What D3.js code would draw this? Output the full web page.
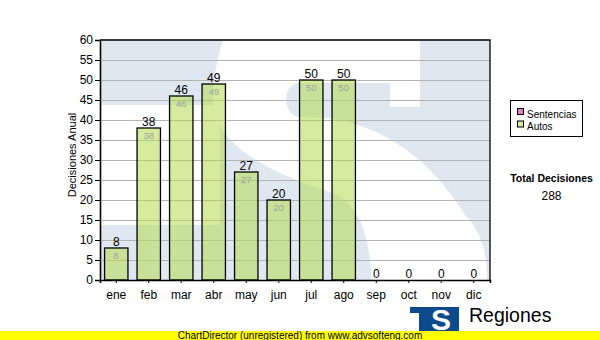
<!DOCTYPE html>
<html>
<head>
<meta charset="utf-8">
<script src="https://cdn.jsdelivr.net/npm/d3@7"></script>
<style>
  body { margin: 0; background: #fff; }
  svg { display: block; font-family: "Liberation Sans", Arial, sans-serif; }
</style>
</head>
<body>
<svg id="chart" width="600" height="340"></svg>
<script>
const months = ["ene", "feb", "mar", "abr", "may", "jun", "jul", "ago", "sep", "oct", "nov", "dic"];
const autos = [8, 38, 46, 49, 27, 20, 50, 50, 0, 0, 0, 0];
const yTicks = [0, 5, 10, 15, 20, 25, 30, 35, 40, 45, 50, 55, 60];
const legendItems = ["Sentencias", "Autos"];
const legendColors = ["#e07fc0", "#d6ec98"];
const totalLabel = "Total Decisiones";
const total = 288;

const svg = d3.select("#chart");
const pLeft = 100, pRight = 490, pTop = 40, pBottom = 280;

const x = d3.scaleBand().domain(months).range([pLeft, pRight]).paddingInner(0.28).paddingOuter(0.14);
const y = d3.scaleLinear().domain([0, 60]).range([pBottom, pTop]);
const rows = autos.map((v, i) => ({m: months[i], v}));

// plot background: pale logo watermark (blue field, white "S")
const defs = svg.append("defs");
defs.append("clipPath").attr("id", "plotClip")
	.append("rect").attr("x", pLeft).attr("y", pTop).attr("width", pRight - pLeft).attr("height", pBottom - pTop);

const bg = svg.append("g").attr("clip-path", "url(#plotClip)");
bg.append("rect").attr("x", pLeft).attr("y", pTop).attr("width", pRight - pLeft).attr("height", pBottom - pTop)
	.attr("fill", "#dfe8f1");
bg.append("rect").attr("x", pLeft).attr("y", 105).attr("width", 120).attr("height", 120).attr("fill", "#fff");
bg.append("path")
	.attr("d", "M390,107 L420,107 L420,-10 L245,-10 C228,20 213,60 213,100 C213,140 260,170 330,192 " +
		"C360,203 372,235 372,300 L485,300 C490,265 485,235 465,215 C440,175 400,130 330,118 " +
		"L300,117 C283,117 280,83 300,83 L390,83 Z")
	.attr("fill", "#fff");

// grid
svg.append("g").selectAll("line").data(yTicks.filter(d => d > 0 && d < 60)).join("line")
	.attr("x1", pLeft).attr("x2", pRight)
	.attr("y1", d => y(d)).attr("y2", d => y(d))
	.attr("stroke", "#b4b4b4").attr("stroke-width", 1).attr("shape-rendering", "crispEdges");

// bars
svg.append("g").selectAll("rect").data(rows.filter(d => d.v > 0)).join("rect")
	.attr("x", d => x(d.m)).attr("width", x.bandwidth())
	.attr("y", d => y(d.v)).attr("height", d => y(0) - y(d.v))
	.attr("fill", "rgb(178,220,78)").attr("fill-opacity", 0.55)
	.attr("stroke", "#000").attr("stroke-width", 1.3);

// value labels
svg.append("g").selectAll("text").data(rows).join("text")
	.attr("x", d => x(d.m) + x.bandwidth() / 2)
	.attr("y", d => y(d.v) - 2)
	.attr("text-anchor", "middle").attr("font-size", 12).attr("fill", "#000")
	.text(d => d.v);

svg.append("g").selectAll("text").data(rows.filter(d => d.v > 0)).join("text")
	.attr("x", d => x(d.m) + x.bandwidth() / 2)
	.attr("y", d => y(d.v) + 11)
	.attr("text-anchor", "middle").attr("font-size", 9.5).attr("fill", "#a0a0a0")
	.text(d => d.v);

// frame
svg.append("path")
	.attr("d", `M${pLeft},${pTop}H${pRight}V${pBottom}`)
	.attr("fill", "none").attr("stroke", "#000").attr("stroke-width", 1.3);

// axes
const yAxis = svg.append("g").attr("transform", `translate(${pLeft},0)`)
	.call(d3.axisLeft(y).tickValues(yTicks).tickSize(5).tickPadding(2));
const xAxis = svg.append("g").attr("transform", `translate(0,${pBottom})`)
	.call(d3.axisBottom(x).tickSize(3).tickPadding(5));
[yAxis, xAxis].forEach(a => {
	a.select(".domain").attr("stroke", "#000").attr("stroke-width", 1.6);
	a.selectAll(".tick line").attr("stroke", "#000");
	a.selectAll(".tick text").attr("font-size", 12).attr("fill", "#000")
		.attr("font-family", "Liberation Sans, Arial, sans-serif");
});
xAxis.selectAll(".tick text").attr("dy", "0.9em");

svg.append("text")
	.attr("transform", "translate(76,155) rotate(-90)")
	.attr("text-anchor", "middle").attr("font-size", 11)
	.text("Decisiones Anual");

// legend
const lg = svg.append("g");
lg.append("rect").attr("x", 510.5).attr("y", 100.5).attr("width", 72).attr("height", 36)
	.attr("fill", "#fff").attr("stroke", "#000");
legendItems.forEach((name, i) => {
	lg.append("rect").attr("x", 517.5).attr("y", 108.5 + i * 12.5).attr("width", 6).attr("height", 6)
		.attr("fill", legendColors[i]).attr("stroke", "#000");
	lg.append("text").attr("x", 527).attr("y", 117.5 + i * 12).attr("font-size", 10).text(name);
});

svg.append("text").attr("x", 551.5).attr("y", 182).attr("text-anchor", "middle")
	.attr("font-size", 10.5).attr("font-weight", "bold").text(totalLabel);
svg.append("text").attr("x", 551.5).attr("y", 200).attr("text-anchor", "middle")
	.attr("font-size", 12).text(total);

// logo
const logo = svg.append("g");
logo.append("rect").attr("x", 410).attr("y", 307).attr("width", 49).attr("height", 24).attr("fill", "#0d4a8c");
logo.append("rect").attr("x", 410).attr("y", 313).attr("width", 9).attr("height", 18).attr("fill", "#fff");
logo.append("text").attr("x", 441).attr("y", 330).attr("text-anchor", "middle")
	.attr("font-size", 30).attr("font-weight", "bold").attr("fill", "#fff").text("S");
logo.append("text").attr("x", 469).attr("y", 322).attr("font-size", 19.5).attr("fill", "#000").text("Regiones");

// unregistered banner
svg.append("rect").attr("x", 0).attr("y", 331).attr("width", 600).attr("height", 9).attr("fill", "#ffff00");
svg.append("text").attr("x", 300).attr("y", 339).attr("text-anchor", "middle")
	.attr("font-size", 10).text("ChartDirector (unregistered) from www.advsofteng.com");
</script>
</body>
</html>
